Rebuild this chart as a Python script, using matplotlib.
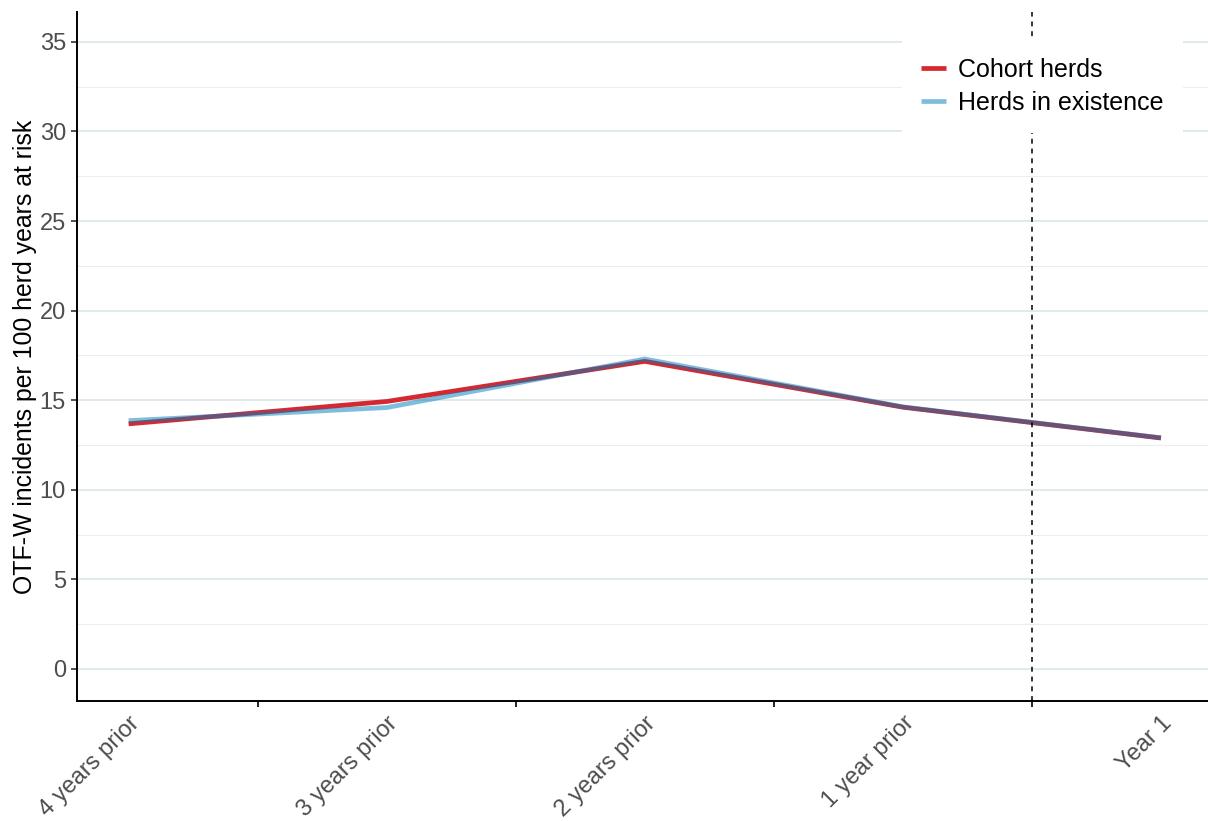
import matplotlib
matplotlib.use("Agg")
import matplotlib.pyplot as plt
from matplotlib.ticker import FixedLocator

plt.rcParams['font.family'] = ['Liberation Sans', 'DejaVu Sans']

categories = ["4 years prior", "3 years prior", "2 years prior", "1 year prior", "Year 1"]
cohort = [13.68, 14.93, 17.17, 14.61, 12.89]
existence = [13.86, 14.59, 17.30, 14.63, 12.90]
y_ticks = [0, 5, 10, 15, 20, 25, 30, 35]
y_minor = [2.5, 7.5, 12.5, 17.5, 22.5, 27.5, 32.5]
boundary = 3.5

W, H = 1208, 821
fig = plt.figure(figsize=(W / 100, H / 100), dpi=100)
left_px, right_px, top_px, bottom_px = 77, 1212.6, 12, 701
ax = fig.add_axes([left_px / W, (H - bottom_px) / H,
                   (right_px - left_px) / W, (bottom_px - top_px) / H])

x = list(range(len(categories)))
ax.set_xlim(-0.2, len(categories) - 1 + 0.2)
ax.set_ylim(-1.79, 36.67)

# gridlines
for v in y_ticks:
    ax.axhline(v, color='#dce9e9', lw=1.3, zorder=0)
for v in y_minor:
    ax.axhline(v, color='#e7f0f0', lw=0.8, zorder=0)

ax.plot(x, cohort, color='#d62830', lw=3.4, solid_capstyle='butt', zorder=2,
        label='Cohort herds')
ax.plot(x, existence, color='#007dbd', alpha=0.5, lw=3.4, solid_capstyle='butt',
        zorder=3, label='Herds in existence')
ax.axvline(boundary, color='black', lw=1.1, linestyle=(0, (3.2, 3.2)), zorder=4)

# axes styling
for s in ['top', 'right']:
    ax.spines[s].set_visible(False)
for s in ['left', 'bottom']:
    ax.spines[s].set_linewidth(1.4)
    ax.spines[s].set_color('black')

ax.set_yticks(y_ticks)
ax.set_yticklabels([str(v) for v in y_ticks])
ax.tick_params(axis='y', length=4, width=1.2, color='#333333', labelsize=17,
               labelcolor='#4d4d4d', pad=4)

ax.set_xticks(x)
ax.set_xticklabels(categories, rotation=45, ha='right', va='top',
                   rotation_mode='anchor')
ax.tick_params(axis='x', which='major', length=0, labelsize=17,
               labelcolor='#4d4d4d', pad=8)
ax.xaxis.set_minor_locator(FixedLocator([i + 0.5 for i in x[:-1]]))
ax.tick_params(axis='x', which='minor', length=4, width=1.2, color='black')

ax.set_ylabel('OTF-W incidents per 100 herd years at risk', fontsize=17.9,
              color='black', labelpad=2)

leg = ax.legend(loc='upper left', bbox_to_anchor=(902 / W, 1 - 39 / H),
                bbox_transform=fig.transFigure, frameon=True, fancybox=False,
                edgecolor='none', facecolor='white', framealpha=1,
                fontsize=18, handlelength=1.0, handletextpad=0.5,
                labelspacing=0.35, borderpad=0.75, borderaxespad=0)
leg.set_zorder(10)

fig.savefig('out.png', dpi=100, facecolor='white')
